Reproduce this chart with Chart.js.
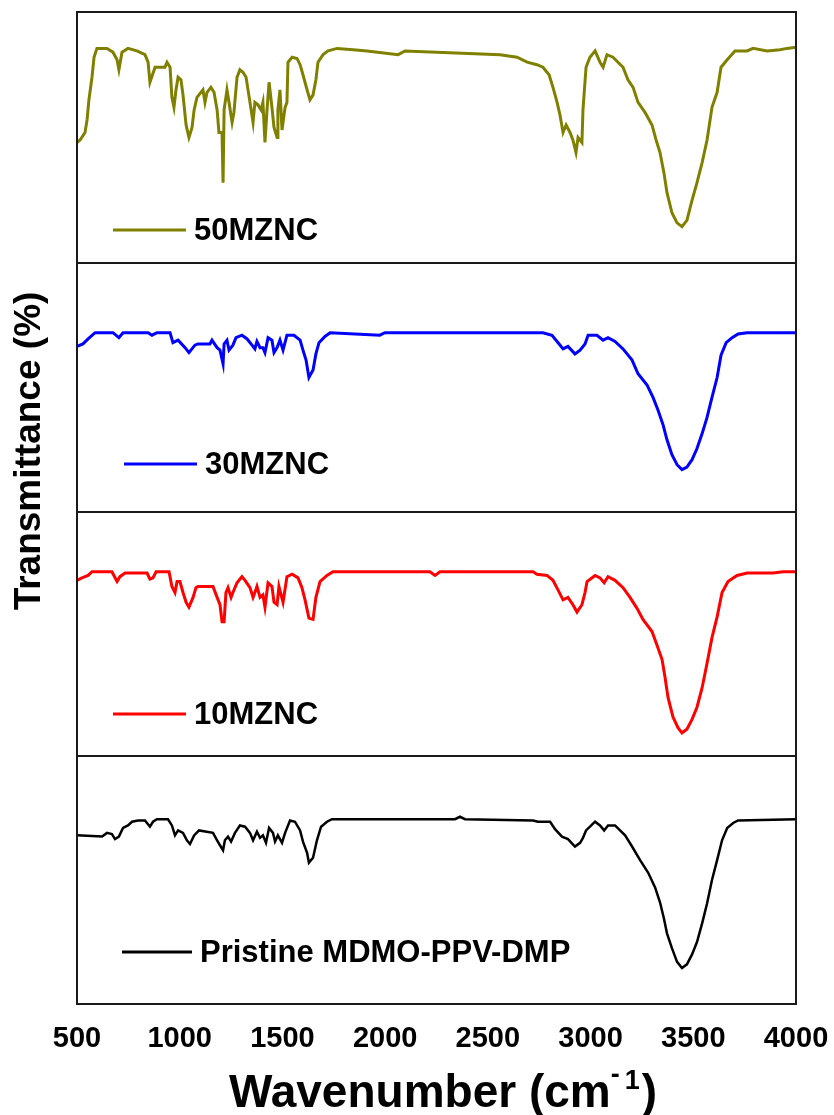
<!DOCTYPE html>
<html>
<head>
<meta charset="utf-8">
<script src="https://cdn.jsdelivr.net/npm/chart.js@4.4.1/dist/chart.umd.min.js"></script>
<style>
  body { margin: 0; background: #fff; }
  #wrap { width: 834px; height: 1115px; }
</style>
</head>
<body>
<div id="wrap"><canvas id="ftir__graph"></canvas></div>
<script>
const seriesNames = ["50MZNC", "30MZNC", "10MZNC", "Pristine MDMO-PPV-DMP"];
const seriesColors = ["#808000", "#0000ff", "#ff0000", "#000000"];
const xTicks = [500, 1000, 1500, 2000, 2500, 3000, 3500, 4000];

// 50MZNC
const wn50 = [500, 515, 539, 549, 558, 573, 583, 597, 646, 675, 695, 704, 719, 748, 792, 831, 846, 855, 880, 928,
  938, 953, 962, 972, 982, 992, 1006, 1016, 1031, 1045, 1060, 1070, 1084, 1113, 1123, 1133, 1152, 1167, 1182, 1191,
  1206, 1211, 1216, 1230, 1240, 1255, 1264, 1279, 1293, 1308, 1323, 1342, 1357, 1366, 1381, 1396, 1405, 1415, 1425, 1435,
  1449, 1459, 1474, 1478, 1488, 1498, 1513, 1522, 1527, 1547, 1571, 1586, 1600, 1620, 1634, 1649, 1663, 1673, 1698, 1722,
  1766, 1844, 1912, 2063, 2097, 2559, 2642, 2691, 2739, 2768, 2798, 2817, 2837, 2851, 2866, 2881, 2900, 2914, 2929, 2939,
  2958, 2963, 2978, 2997, 3022, 3046, 3061, 3080, 3109, 3158, 3182, 3207, 3231, 3265, 3299, 3319, 3338, 3357, 3372, 3396,
  3421, 3445, 3469, 3494, 3518, 3543, 3567, 3591, 3616, 3635, 3665, 3703, 3762, 3791, 3859, 3922, 3956, 4000];
const t50 = [48, 49, 52, 57, 65, 74, 82, 85.5, 85.5, 84, 81, 77, 84, 85.5, 84.5, 83, 80, 72, 78, 78,
  80, 78, 66, 62, 69, 74, 73, 67, 55, 50, 54, 61, 66, 69, 64, 68, 70, 68, 61, 52,
  52, 32, 61, 69, 64, 56, 60, 74, 77, 76, 74, 64, 56, 64, 63, 61, 64, 48, 61, 72,
  62, 54, 50, 61, 69, 53, 62, 64, 80, 82, 81.5, 79, 75, 69, 65, 67, 73, 80, 83, 84.5,
  85.5, 85, 84.5, 83, 84.5, 83, 82, 80, 79, 78, 75, 70, 64, 59, 52, 55, 52, 49, 44, 50,
  48, 61, 78, 82, 84.5, 80, 78, 83, 82, 78, 73, 70, 64, 60, 55, 49, 44, 36, 28, 20,
  16, 14.5, 17, 25, 32, 40, 49, 62, 68, 78, 81, 84.5, 84.5, 85.5, 84.5, 85, 85.5, 86];

// 30MZNC
const wn30 = [500, 529, 554, 588, 675, 704, 724, 846, 865, 889, 953, 967, 992, 1026, 1045, 1074, 1089, 1147, 1157, 1182,
  1196, 1211, 1216, 1230, 1240, 1259, 1274, 1303, 1328, 1352, 1366, 1376, 1391, 1405, 1415, 1430, 1449, 1459, 1474, 1488,
  1503, 1522, 1556, 1586, 1600, 1615, 1629, 1649, 1663, 1678, 1707, 1732, 1974, 1999, 2768, 2812, 2842, 2866, 2890, 2924,
  2949, 2973, 2988, 3031, 3061, 3085, 3119, 3158, 3202, 3231, 3275, 3304, 3328, 3353, 3372, 3396, 3421, 3445, 3469, 3494,
  3518, 3543, 3567, 3591, 3616, 3635, 3660, 3689, 3718, 3762, 4000];
const t30 = [66.5, 67.5, 69.5, 72, 72, 70, 72, 72, 71, 72, 72, 68, 69, 66, 64, 67, 67.5, 67.5, 69, 66,
  65, 59.5, 67.5, 69, 65, 67, 70, 71, 69.5, 67, 65.5, 68.5, 66, 66, 64, 70, 69, 64, 66, 69,
  65, 71, 71, 69, 65, 61, 54, 57, 63.5, 68, 70.5, 72, 71, 72, 72, 71, 68, 65.5, 66.5, 63.5,
  65, 67.5, 71, 71, 69, 70, 68.5, 65.5, 61, 55.5, 51, 46, 41, 35, 29, 23, 19, 17, 18, 21,
  25.5, 31.5, 38, 46, 54, 63, 68, 70, 71.5, 72, 72];

// 10MZNC
const wn10 = [500, 524, 554, 573, 670, 695, 709, 734, 841, 855, 870, 885, 948, 962, 977, 987, 1001, 1016, 1031, 1045,
  1065, 1079, 1089, 1162, 1182, 1196, 1206, 1216, 1225, 1235, 1250, 1259, 1279, 1303, 1318, 1342, 1357, 1366, 1376, 1391,
  1405, 1415, 1430, 1449, 1459, 1474, 1483, 1503, 1522, 1547, 1576, 1595, 1610, 1629, 1649, 1663, 1683, 1717, 1746, 2218,
  2243, 2267, 2720, 2739, 2788, 2817, 2842, 2866, 2890, 2914, 2934, 2958, 2973, 2983, 3022, 3046, 3066, 3085, 3119, 3158,
  3192, 3226, 3255, 3299, 3323, 3348, 3362, 3377, 3401, 3426, 3445, 3469, 3494, 3518, 3543, 3567, 3591, 3616, 3640, 3669,
  3713, 3762, 3825, 3888, 3937, 4000];
const t10 = [72, 73, 74, 75.5, 75.5, 71.5, 73.5, 75, 75, 72.5, 73, 75.5, 75.5, 69.5, 67, 71.5, 71.5, 67, 63, 61,
  65, 69, 69.5, 69.5, 65, 62, 55, 55, 67, 69, 65, 67, 71, 73.5, 72, 69, 65, 67, 69.5, 65,
  66, 61, 71, 69.5, 63, 62, 69.5, 63, 73.5, 74.5, 73, 69, 64, 56.5, 56, 65, 71.5, 74, 75.5, 75.5,
  74, 75.5, 75.5, 74.5, 74, 72, 68, 64, 65, 62, 59, 62, 67, 71.5, 74, 73, 71, 73.5, 72, 69,
  65, 60.5, 56, 51, 45.5, 39.5, 32.5, 24, 16, 11.5, 9.5, 11, 15, 20, 28, 38, 48.5, 57, 67, 71.5,
  74, 75, 75, 75, 75.5, 75.5];

// Pristine MDMO-PPV-DMP
const wnP = [500, 622, 646, 670, 685, 704, 724, 748, 768, 797, 831, 855, 870, 889, 943, 962, 977, 992, 1016, 1035,
  1050, 1070, 1094, 1162, 1182, 1196, 1211, 1220, 1235, 1250, 1269, 1293, 1318, 1342, 1357, 1376, 1391, 1405, 1420, 1435,
  1454, 1464, 1478, 1498, 1513, 1537, 1561, 1586, 1600, 1620, 1629, 1649, 1668, 1688, 1717, 1741, 2340, 2364, 2389, 2720,
  2744, 2803, 2827, 2861, 2890, 2924, 2949, 2963, 2978, 2997, 3022, 3046, 3066, 3085, 3119, 3168, 3202, 3241, 3280, 3314,
  3338, 3357, 3372, 3396, 3421, 3445, 3469, 3494, 3518, 3543, 3567, 3591, 3616, 3640, 3665, 3694, 3718, 4000];
const tP = [68, 67.5, 69, 68.5, 66.5, 67.5, 71, 72, 73.5, 74, 74, 71.5, 73.5, 74.5, 74.5, 72, 68, 70, 69, 66,
  64.5, 68, 70, 69, 66, 64, 62, 66, 67.5, 65.5, 69, 72, 71.5, 69, 66, 69.5, 67, 68, 65, 71,
  69, 65.5, 68, 65, 69, 74, 73.5, 70, 65.5, 61, 57, 59, 66, 71.5, 73.5, 74.5, 74.5, 75.5, 74.5, 74,
  73.5, 73.5, 70.5, 67.5, 66.5, 63.5, 65, 67, 70, 71.5, 73.5, 72, 70, 72, 72, 68, 63.5, 58, 53, 47,
  41, 34.5, 28.5, 22.5, 17, 14.5, 16, 20, 25, 32.5, 40.5, 50, 58, 66, 71, 73, 74, 74.5];

const toPoints = (xs, ys) => xs.map((x, i) => ({ x: x, y: ys[i] }));
const panelAxes = ["y50", "y30", "y10", "yP"];
const seriesData = [toPoints(wn50, t50), toPoints(wn30, t30), toPoints(wn10, t10), toPoints(wnP, tP)];

const FONT = '"Liberation Sans", Arial, Helvetica, sans-serif';

const panelDecor = {
  id: "panelDecor",
  afterDatasetsDraw(chart) {
    const ctx = chart.ctx;
    const area = chart.chartArea;
    ctx.save();
    ctx.strokeStyle = "#1a1a1a";
    ctx.lineWidth = 2;
    panelAxes.forEach((id) => {
      const s = chart.scales[id];
      ctx.strokeRect(area.left, s.top, area.right - area.left, s.bottom - s.top);
    });

    // in-panel legend: line sample + bold label
    const spots = [
      { dx: 36, dy: 33, len: 73 },
      { dx: 47, dy: 48, len: 73 },
      { dx: 36, dy: 42, len: 73 },
      { dx: 45, dy: 52, len: 70 },
    ];
    ctx.font = "bold 31px " + FONT;
    ctx.textBaseline = "middle";
    ctx.textAlign = "left";
    chart.data.datasets.forEach((ds, i) => {
      const s = chart.scales[ds.yAxisID];
      const y = s.bottom - spots[i].dy;
      const x0 = area.left + spots[i].dx;
      ctx.strokeStyle = ds.borderColor;
      ctx.lineWidth = 3;
      ctx.beginPath();
      ctx.moveTo(x0, y);
      ctx.lineTo(x0 + spots[i].len, y);
      ctx.stroke();
      ctx.fillStyle = "#000";
      ctx.fillText(ds.label, x0 + spots[i].len + 8, y + 1);
    });
    ctx.restore();
  },
  afterDraw(chart) {
    const ctx = chart.ctx;
    ctx.save();
    ctx.fillStyle = "#000";
    // y title
    ctx.translate(30, 451);
    ctx.rotate(-Math.PI / 2);
    ctx.font = "bold 37px " + FONT;
    ctx.textAlign = "center";
    ctx.textBaseline = "middle";
    ctx.fillText("Transmittance (%)", 0, 0);
    ctx.setTransform(1, 0, 0, 1, 0, 0);

    // x title with superscript
    const big = "bold 46px " + FONT;
    const small = "bold 27px " + FONT;
    const base = 1107;
    ctx.textAlign = "left";
    ctx.textBaseline = "alphabetic";
    ctx.font = big;
    const w1 = ctx.measureText("Wavenumber (cm").width;
    const w3 = ctx.measureText(")").width;
    ctx.font = small;
    const wDash = ctx.measureText("-").width;
    const wOne = ctx.measureText("1").width;
    const supW = wDash + 5 + wOne + 2;
    let x = 443 - (w1 + supW + w3) / 2;
    ctx.font = big;
    ctx.fillText("Wavenumber (cm", x, base);
    x += w1;
    ctx.font = small;
    ctx.fillText("-", x, base - 24);
    ctx.fillText("1", x + wDash + 5, base - 18);
    x += supW;
    ctx.font = big;
    ctx.fillText(")", x, base);
    ctx.restore();
  },
};

const ftirGraph = () => {
  let ctx = document.getElementById("ftir__graph").getContext("2d");
  const yAxis = (weight) => ({
    type: "linear",
    position: "left",
    stack: "ftir",
    stackWeight: weight,
    min: 0,
    max: 100,
    ticks: { display: false },
    grid: { display: false },
    border: { display: false },
    afterFit: (scale) => {
      scale.width = 77;
    },
  });

  let myChart = new Chart(ctx, {
    type: "line",
    data: {
      datasets: seriesData.map((pts, i) => ({
        label: seriesNames[i],
        data: pts,
        yAxisID: panelAxes[i],
        borderColor: seriesColors[i],
        backgroundColor: seriesColors[i],
        borderWidth: i === 3 ? 2.5 : 3,
        pointRadius: 0,
        tension: 0,
        fill: false,
      })),
    },
    options: {
      responsive: true,
      maintainAspectRatio: false,
      animation: false,
      layout: { padding: { top: 12, right: 38, left: 0, bottom: 0 } },
      plugins: {
        legend: { display: false },
        tooltip: { enabled: false },
      },
      scales: {
        x: {
          type: "linear",
          min: 500,
          max: 4000,
          grid: { display: false },
          border: { display: false },
          afterBuildTicks: (scale) => {
            scale.ticks = xTicks.map((v) => ({ value: v }));
          },
          ticks: {
            autoSkip: false,
            maxRotation: 0,
            padding: 10,
            color: "#000",
            font: { family: FONT, size: 29, weight: "bold" },
            callback: (v) => String(v),
          },
          afterFit: (scale) => {
            scale.height = 111;
            scale.paddingLeft = 0;
            scale.paddingRight = 0;
          },
        },
        yP: yAxis(248),
        y10: yAxis(244),
        y30: yAxis(249),
        y50: yAxis(251),
      },
    },
    plugins: [panelDecor],
  });
};

ftirGraph();
</script>
</body>
</html>
